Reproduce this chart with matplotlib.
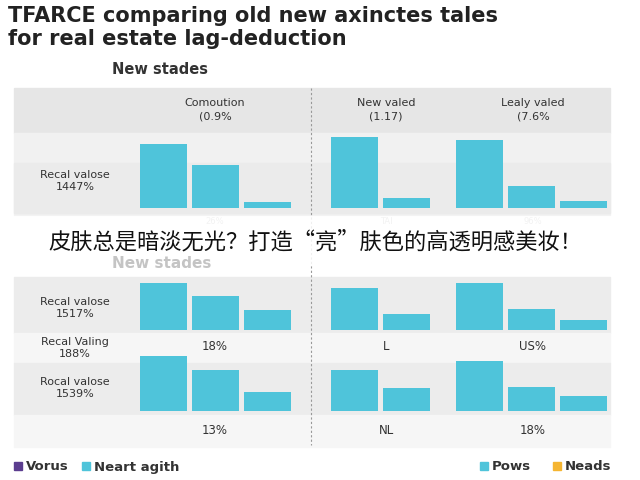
import matplotlib.pyplot as plt
from matplotlib.patches import Rectangle

plt.rcParams['font.family'] = ['DejaVu Sans', 'Noto Sans CJK SC']

# bar heights per row, per group (three groups per row)
row_top = [[64, 43, 6], [71, 10], [68, 22, 7]]
row_mid = [[47, 34, 20], [42, 16], [47, 21, 10]]
row_bot = [[55, 41, 19], [41, 23], [50, 24, 15]]
group_heads = ['Comoution\n(0.9%', 'New valed\n(1.17)', 'Lealy valed\n(7.6%']
row_labels = ['Recal valose\n1447%', 'Recal valose\n1517%', 'Rocal valose\n1539%']
mid_labels = ['18%', 'L', 'US%']
bot_labels = ['13%', 'NL', '18%']
hidden_labels = ['26%', 'TAI', '96%']
mid_row_label = 'Recal Valing\n188%'

bar_color = '#4fc4da'
group_x = [140, 331, 456]
bar_w, bar_step = 47, 52

fig = plt.figure(figsize=(6.4, 4.8), dpi=100)
ax = fig.add_axes([0, 0, 1, 1])
ax.set_xlim(0, 640)
ax.set_ylim(480, 0)
ax.axis('off')

# background bands
ax.add_patch(Rectangle((14, 88), 596, 45, color='#e6e6e6', zorder=0))
ax.add_patch(Rectangle((14, 133), 596, 82, color='#f1f1f1', zorder=0))
ax.add_patch(Rectangle((14, 163), 596, 50, color='#ebebeb', zorder=0))
ax.add_patch(Rectangle((14, 277), 596, 56, color='#ececec', zorder=0))
ax.add_patch(Rectangle((14, 333), 596, 30, color='#f6f6f6', zorder=0))
ax.add_patch(Rectangle((14, 363), 596, 52, color='#ececec', zorder=0))
ax.add_patch(Rectangle((14, 415), 596, 32, color='#f6f6f6', zorder=0))
ax.plot([311, 311], [88, 445], ls=(0, (2, 2)), color='#999999', lw=0.8, zorder=1)

def draw_row(vals, base):
    for gx, grp in zip(group_x, vals):
        xs = [gx + i * bar_step for i in range(len(grp))]
        ax.bar(xs, grp, width=bar_w, bottom=[base - v for v in grp],
               align='edge', color=bar_color, zorder=2)

draw_row(row_top, 208)
draw_row(row_mid, 330)
draw_row(row_bot, 411)

centers = [215, 386, 533]
for c, t in zip(centers, group_heads):
    ax.text(c, 110, t, ha='center', va='center', fontsize=8, color='#333333', linespacing=1.4)
for c, t in zip(centers, mid_labels):
    ax.text(c, 347, t, ha='center', va='center', fontsize=8.5, color='#333333')
for c, t in zip(centers, bot_labels):
    ax.text(c, 430, t, ha='center', va='center', fontsize=8.5, color='#333333')
# labels mostly hidden behind the caption band
for c, t in zip(centers, hidden_labels):
    ax.text(c, 221, t, ha='center', va='center', fontsize=6, color='#aaaaaa')

lab_kw = dict(ha='center', va='center', fontsize=8, color='#333333')
ax.text(75, 181, row_labels[0], **lab_kw)
ax.text(75, 308, row_labels[1], **lab_kw)
ax.text(75, 348, mid_row_label, **lab_kw)
ax.text(75, 388, row_labels[2], **lab_kw)

# overlay band with caption
ax.add_patch(Rectangle((0, 216), 640, 49, color='white', alpha=0.85, zorder=3))
ax.text(315, 242, '皮肤总是暗淡无光？打造“亮”肤色的高透明感美妆！', ha='center', va='center',
        fontsize=16, color='#111111', family=['Noto Sans CJK SC', 'DejaVu Sans'], zorder=4)
ax.text(112, 264, 'New stades', fontsize=11, color='#c4c4c4', fontweight='bold', va='center', zorder=4)

ax.text(8, 16, 'TFARCE comparing old new axinctes tales', fontsize=15, fontweight='bold',
        color='#222222', va='center')
ax.text(8, 39, 'for real estate lag-deduction', fontsize=15, fontweight='bold',
        color='#222222', va='center')
ax.text(112, 70, 'New stades', fontsize=10.5, fontweight='bold', color='#333333', va='center')

# legend
legend_items = [(14, '#5b3d8f', 'Vorus'), (82, bar_color, 'Neart agith'),
                (480, bar_color, 'Pows'), (553, '#f5b531', 'Neads')]
for lx, col, lab in legend_items:
    ax.add_patch(Rectangle((lx, 462), 8, 8, color=col))
    ax.text(lx + 12, 467, lab, fontsize=9.5, fontweight='bold', color='#333333', va='center')

fig.savefig('out.png', dpi=100)
